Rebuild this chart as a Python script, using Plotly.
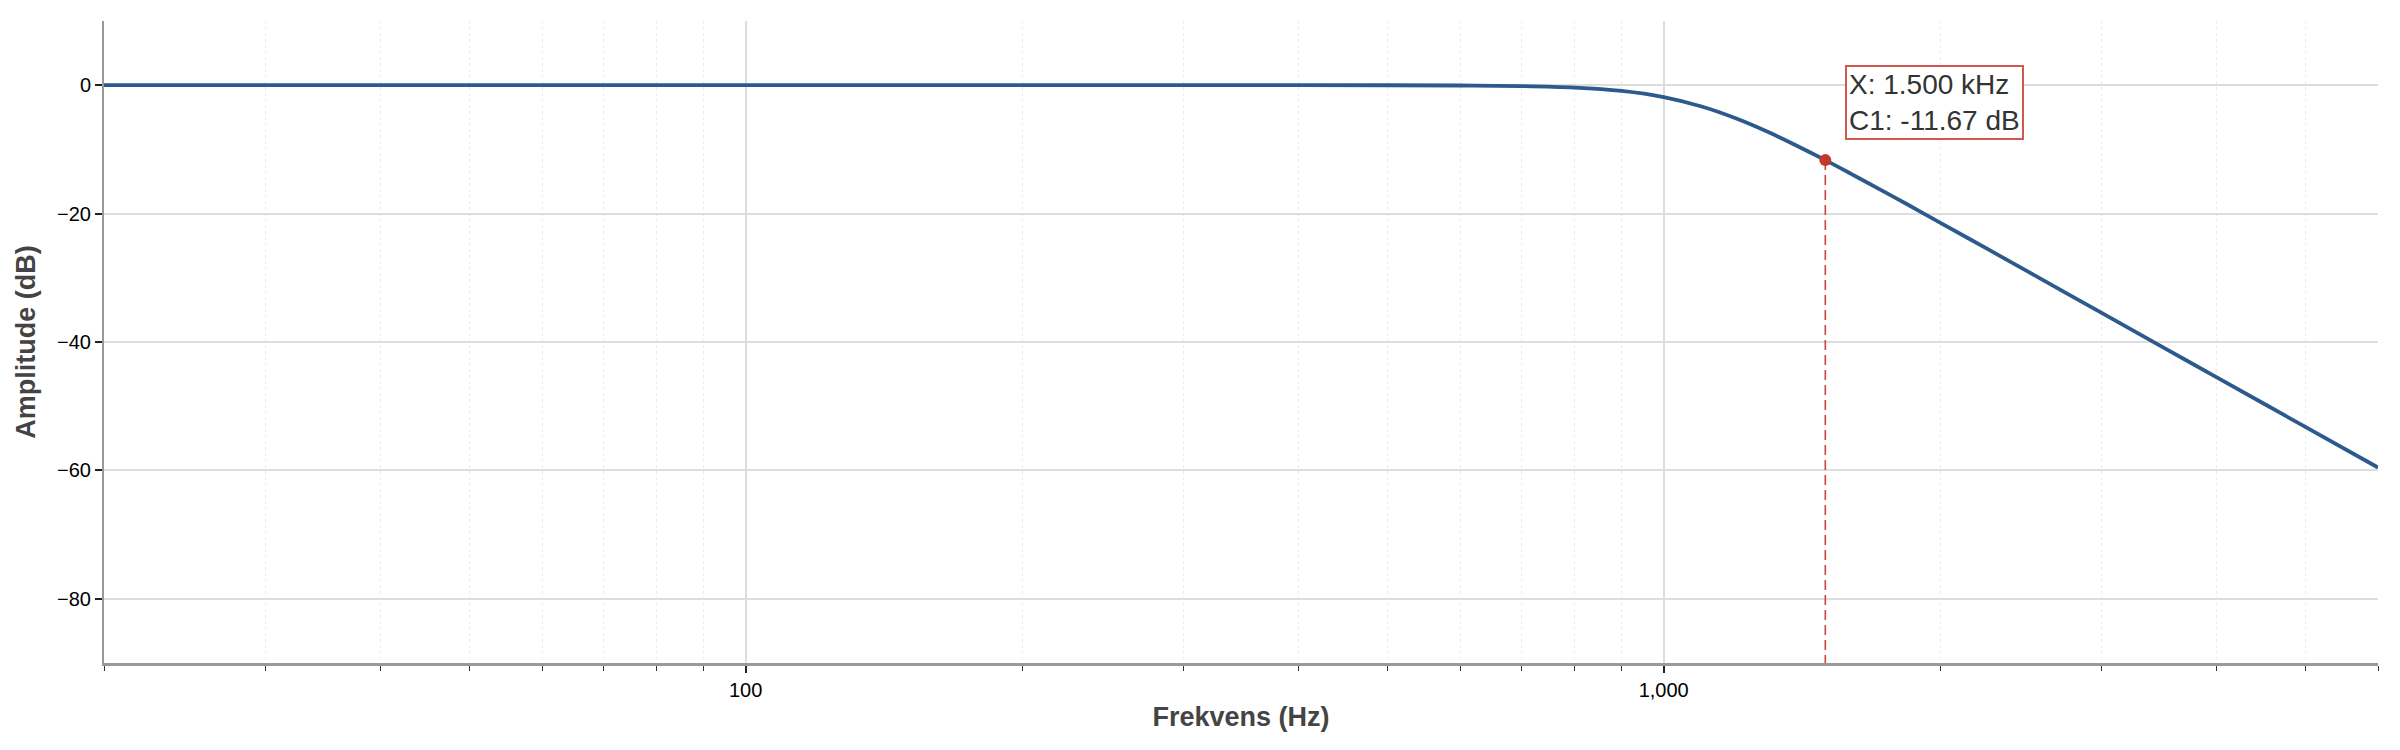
import math
import plotly.graph_objects as go

# Frekvensrespons
frekvens = [20, 50, 100, 200, 300, 400, 500, 600, 700, 800, 900, 1000, 1100, 1200,
            1300, 1400, 1500, 1600, 1700, 1850, 2000, 2250, 2500, 3000, 3500, 4000,
            5000, 6000]
amplitude = [0.0, 0.0, 0.0, 0.0, 0.0, 0.0, -0.01, -0.05, -0.13, -0.37, -0.90, -1.86,
             -3.32, -5.19, -7.30, -9.50, -11.67, -13.80, -15.84, -18.70, -21.41,
             -25.45, -29.13, -35.47, -40.83, -45.47, -53.22, -59.55]

# Markør
markor_x = [1500]
markor_y = [-11.67]
markor_tekst = "X: 1.500 kHz<br>C1: -11.67 dB"

# Akser
y_ticks = [-80, -60, -40, -20, 0]
x_ticks = [100, 1000]
x_ticktekst = ["100", "1,000"]
x_minor = [20, 30, 40, 50, 60, 70, 80, 90, 200, 300, 400, 500, 600, 700, 800, 900,
           2000, 3000, 4000, 5000, 6000]

fig = go.Figure()

fig.add_trace(go.Scatter(
    x=frekvens, y=amplitude, mode='lines', line_shape='spline',
    line=dict(color='#2c5a8c', width=3.8), hoverinfo='skip', showlegend=False
))

# stiplet linje fra markøren ned til aksen
fig.add_trace(go.Scatter(
    x=[markor_x[0], markor_x[0]], y=[markor_y[0], -90], mode='lines',
    line=dict(color='#d0453a', width=1.6, dash='10px,5px'), showlegend=False
))

fig.add_trace(go.Scatter(
    x=markor_x, y=markor_y, mode='markers',
    marker=dict(color='#c0392b', size=12), showlegend=False
))

fig.add_annotation(
    x=math.log10(markor_x[0]), y=markor_y[0], xref='x', yref='y',
    text=markor_tekst, showarrow=False, align='left',
    xanchor='left', yanchor='bottom', xshift=20, yshift=20,
    font=dict(family='Liberation Sans, Arial', size=28, color='#333333'),
    bgcolor='white', bordercolor='#d0584e', borderwidth=2, borderpad=2
)

# body i html har 8px margin, derfor lidt mindre margin til venstre/top
fig.update_layout(
    width=2400, height=750,
    paper_bgcolor='white', plot_bgcolor='white',
    margin=dict(l=96, r=30, t=13, b=95),
    font=dict(family='Liberation Sans, Arial', size=20, color='black'),
    xaxis=dict(
        type='log', range=[math.log10(20), math.log10(6000)],
        tickmode='array', tickvals=x_ticks, ticktext=x_ticktekst,
        ticks='outside', ticklen=7, tickwidth=1.5, tickcolor='#222',
        showline=True, linecolor='#999999', linewidth=2.5,
        showgrid=True, gridcolor='#dddddd', gridwidth=1.5,
        zeroline=False,
        minor=dict(tickmode='array', tickvals=x_minor, ticks='outside', ticklen=5,
                   tickwidth=1, tickcolor='#333', showgrid=True,
                   gridcolor='#ececec', gridwidth=1, griddash='dot'),
        title=dict(text='<b>Frekvens (Hz)</b>', font=dict(size=27, color='#444444'),
                   standoff=8)
    ),
    yaxis=dict(
        range=[-90, 10], tickmode='array', tickvals=y_ticks,
        ticks='outside', ticklen=7, tickwidth=1.5, tickcolor='#222',
        showline=True, linecolor='#999999', linewidth=2,
        showgrid=True, gridcolor='#dddddd', gridwidth=1.5,
        zeroline=False,
        title=dict(text='<b>Amplitude (dB)</b>', font=dict(size=27, color='#444444'),
                   standoff=14)
    )
)

fig.write_html("out.html")
